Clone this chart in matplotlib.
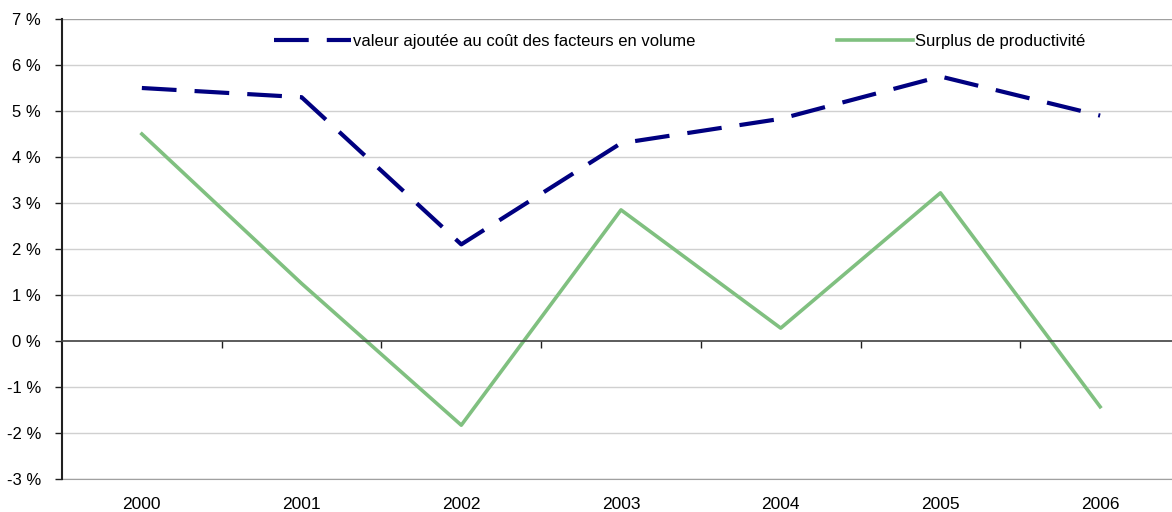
import matplotlib
matplotlib.use("Agg")
import matplotlib.pyplot as plt
from matplotlib.ticker import FixedLocator

plt.rcParams['font.family'] = ['Liberation Sans', 'DejaVu Sans']
plt.rcParams['lines.scale_dashes'] = False

# Data
years = ["2000", "2001", "2002", "2003", "2004", "2005", "2006"]
valeur_ajoutee = [5.5, 5.3, 2.1, 4.3, 4.83, 5.75, 4.9]
surplus = [4.5, 1.25, -1.83, 2.85, 0.28, 3.22, -1.43]
y_ticks = [-3, -2, -1, 0, 1, 2, 3, 4, 5, 6, 7]

fig = plt.figure(figsize=(11.72, 5.12), dpi=100)
ax = fig.add_axes([62 / 1172, 33 / 512, 1118 / 1172, 460 / 512])

x = list(range(len(years)))
ax.plot(x, valeur_ajoutee, color="#000080", lw=3.0, dashes=(25, 13),
        label="valeur ajoutée au coût des facteurs en volume", solid_capstyle="butt")
ax.plot(x, surplus, color="#80c080", lw=2.6,
        label="Surplus de productivité")

ax.set_xlim(-0.5, len(years) - 0.5)
ax.set_ylim(-3, 7)

# gridlines
for v in y_ticks:
    if v == 0:
        continue
    ax.axhline(v, color="#d0d0d0" if v not in (-3, 7) else "#a0a0a0", lw=1, zorder=0)

ax.spines["top"].set_visible(False)
ax.spines["right"].set_visible(False)
ax.spines["left"].set_color("#202020")
ax.spines["left"].set_linewidth(1.5)
ax.spines["bottom"].set_position(("data", 0))
ax.spines["bottom"].set_color("#404040")
ax.spines["bottom"].set_linewidth(1.2)

ax.set_yticks(y_ticks)
ax.set_yticklabels([f"{v} %" for v in y_ticks], fontsize=12)
ax.tick_params(axis="y", length=5, width=1, color="#202020", pad=10)

ax.xaxis.set_major_locator(FixedLocator([]))
ax.xaxis.set_minor_locator(FixedLocator([i + 0.5 for i in range(len(years) - 1)]))
ax.tick_params(axis="x", which="minor", length=5, width=1, color="#202020", direction="out")

sec = ax.secondary_xaxis(0.0)
sec.set_xticks(x)
sec.set_xticklabels(years, fontsize=12.5)
sec.tick_params(length=0, pad=13)
sec.spines["bottom"].set_color("#a0a0a0")

leg = ax.legend(loc="center left", bbox_to_anchor=(0.19, 0.952), ncol=2, frameon=False,
                fontsize=12, handlelength=4.6, handletextpad=0.1, columnspacing=8.5,
                borderaxespad=0, borderpad=0)

fig.savefig("out.png", dpi=100)
